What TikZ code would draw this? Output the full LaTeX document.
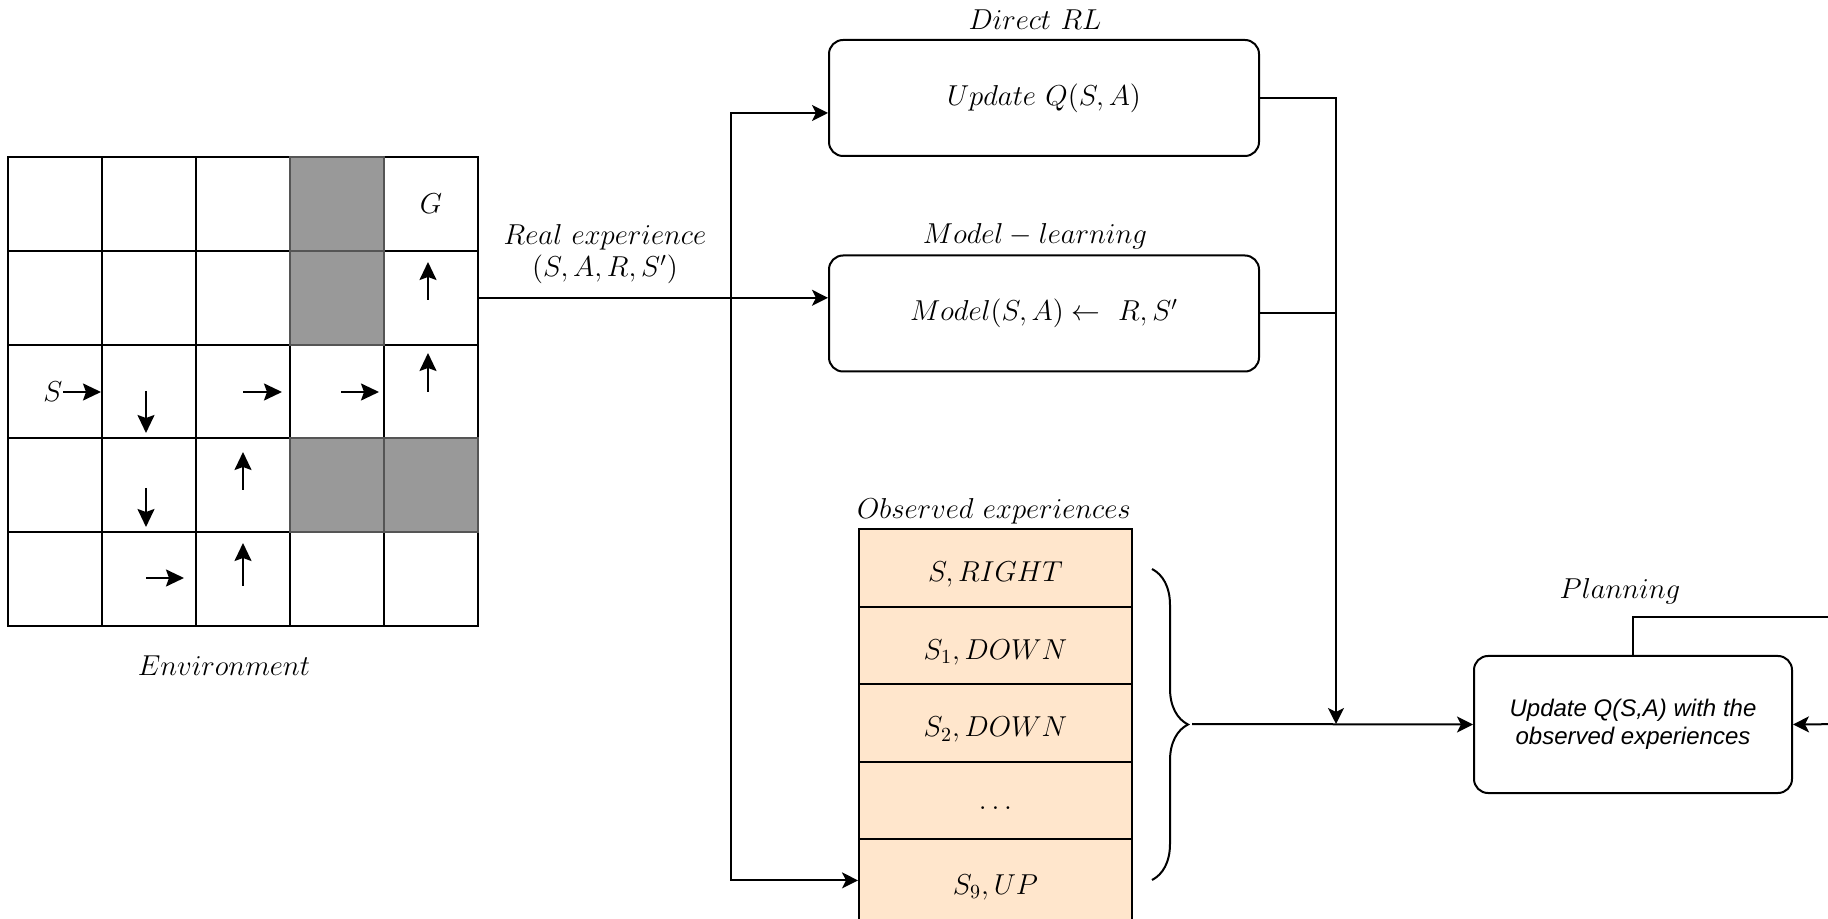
\documentclass[tikz,border=0pt]{standalone}
\usepackage{fontspec}
\usetikzlibrary{arrows.meta,decorations.pathreplacing}
\newfontfamily\helv{Liberation Sans}
\definecolor{expfill}{HTML}{FFE6CC}
\definecolor{wallgray}{HTML}{999999}
\definecolor{wallline}{HTML}{555555}

\begin{document}
\begin{tikzpicture}[
  x=0.5pt, y=-0.5pt,
  font=\fontsize{14.4}{17}\selectfont,
  cell/.style={draw, line width=1pt, minimum width=47pt, minimum height=46.9pt, inner sep=0pt},
  wall/.style={cell, draw=wallline, fill=wallgray},
  box/.style={draw, line width=1pt, rounded corners=7pt, minimum width=215pt, minimum height=58pt},
  planbox/.style={draw, line width=1pt, rounded corners=7pt, minimum width=159pt, minimum height=68.5pt,
    align=center, font={\fontsize{12}{14}\selectfont\helv\itshape}},
  expcell/.style={draw, line width=1pt, fill=expfill, minimum width=136.5pt, minimum height=38.8pt,
    inner sep=0pt, text height=15pt, text depth=1pt},
  link/.style={line width=1pt, -{Stealth[length=8pt,width=8pt,inset=2pt]}},
  wire/.style={line width=1pt},
  move/.style={line width=1pt, -{Stealth[length=9pt,width=8.5pt,inset=1.5pt]}},
]
\useasboundingbox (0,0) rectangle (1828,919);

% ---------- grid world ----------
\foreach \r in {1,...,5}{
  \foreach \c in {1,...,5}{
    \node[cell] (g\r\c) at ({55+94*(\c-1)},{204+93.8*(\r-1)}) {};
  }
}
\foreach \w in {14,24,44,45}{
  \node[wall] (w\w) at (g\w.center) {};
}
\node (goal) at (g15.center) {$G$};
\node (start) at (53,392) {$S$};

% moves taken by the agent
\draw[move] (63,392) -- (101,392);
\draw[move] (146,391) -- (146,433);
\draw[move] (146,488) -- (146,527);
\draw[move] (146,578) -- (184,578);
\draw[move] (243,586) -- (243,543);
\draw[move] (243,490) -- (243,452);
\draw[move] (243,392) -- (282,392);
\draw[move] (341,392) -- (379,392);
\draw[move] (428,392) -- (428,353);
\draw[move] (428,300) -- (428,262);

\node (envlbl) at (224,666) {$Environment$};

% ---------- learning boxes ----------
\node[box] (direct) at (1044,98) {$Update\ Q(S,A)$};
\node (directlbl) at (1035,20) {$Direct\ RL$};
\node[box] (model) at (1044,313.5) {$Model(S,A) \leftarrow\ R,S'$};
\node (modellbl) at (1035,236.5) {$Model - learning$};

\node[align=center, font=\fontsize{14.4}{16.3}\selectfont] (reallbl) at (605,254) {$Real\ experience$\\$(S,A,R,S')$};

% ---------- observed experiences ----------
\node (obslbl) at (994,511.5) {$Observed\ experiences$};
\node[expcell] (e1) at (995.5,567.8) {$S, RIGHT$};
\node[expcell] (e2) at (995.5,645.4) {$S_1, DOWN$};
\node[expcell] (e3) at (995.5,723.0) {$S_2, DOWN$};
\node[expcell, text height=8.5pt, text depth=0pt] (e4) at (995.5,800.6) {$\dots$};
\node[expcell, minimum height=41pt] (e5) at (995.5,880.4) {$S_9, UP$};

% ---------- planning ----------
\node[planbox] (plan) at (1633,724.5) {Update Q(S,A) with the\\observed experiences};
\node (planlbl) at (1620,591) {$Planning$};

% ---------- connectors ----------
\coordinate (split) at (731,297.8);
\coordinate (join) at (1336,724);
\coordinate (btip) at (1192,724);
\coordinate (loopout) at (1850,617);
\coordinate (loopin) at (1850,724);

\draw[link] (g25.east) -- (g25.east -| model.west);
\draw[link] (split) |- ([yshift=-7.5pt]direct.west);
\draw[link] (split) |- (e5.west);

\draw[link] (direct.east) -| (join);
\draw[wire] (model.east) -- (model.east -| join);

\draw[wire, decorate, decoration={brace, amplitude=18pt}] (1152,569) -- (1152,880);
\draw[link] (btip) -- (plan.west);

\draw[wire] (plan.north) |- (loopout);
\draw[link] (loopin) -- (plan.east);
\end{tikzpicture}
\end{document}
